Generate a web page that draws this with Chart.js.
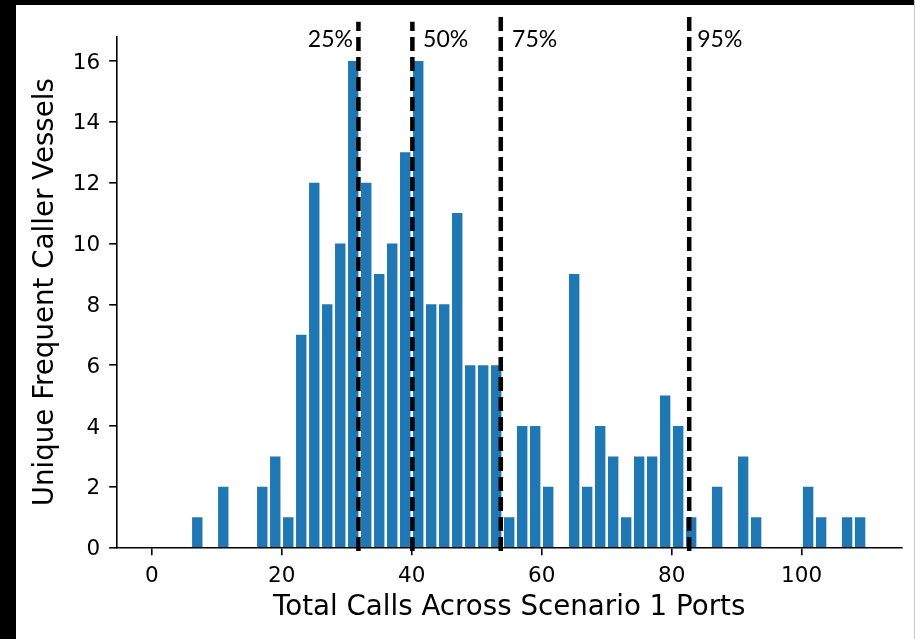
<!DOCTYPE html>
<html><head><meta charset="utf-8">
<script src="https://cdn.jsdelivr.net/npm/chart.js@4/dist/chart.umd.min.js"></script>
<style>
html,body{margin:0;padding:0;background:#fff;}
#wrap{position:relative;width:915px;height:639px;overflow:hidden;background:#fff;}
canvas{position:absolute;left:0;top:0;}
.frameTop{position:absolute;left:0;top:0;width:915px;height:5px;background:#000;}
.frameLeft{position:absolute;left:0;top:0;width:16px;height:639px;background:#000;}
.frameRight{position:absolute;left:914px;top:0;width:1px;height:639px;background:#c8c8c8;}
</style></head><body>
<div id="wrap"><canvas id="c" width="915" height="639"></canvas>
<div class="frameTop"></div><div class="frameLeft"></div><div class="frameRight"></div></div>
<script>
// Histogram bins (centres of 2-call-wide bins) and counts
const binCenters   = [7, 11, 17, 19, 21, 23, 25, 27, 29, 31, 33, 35, 37, 39, 41, 43, 45, 47, 49, 51, 53, 55, 57, 59, 61, 65, 67, 69, 71, 73, 75, 77, 79, 81, 83, 87, 91, 93, 101, 103, 107, 109];
const vesselCounts = [1, 2, 2, 3, 1, 7, 12, 8, 10, 16, 12, 9, 10, 13, 16, 8, 8, 11, 6, 6, 6, 1, 4, 4, 2, 9, 2, 4, 3, 1, 3, 3, 5, 4, 1, 2, 3, 1, 2, 1, 1, 1];
const percentileValues = [31.8, 40.1, 53.7, 82.7];
const percentileLabels = ['25%', '50%', '75%', '95%'];
const xTickValues = [0, 20, 40, 60, 80, 100];
const yTickValues = [0, 2, 4, 6, 8, 10, 12, 14, 16];

const lineTops = [21.7, 21.7, 16.7, 16.7];
const labelOffsets = [-5.5, 10.7, 11.3, 8];

const percentilePlugin = {
  id: 'pct',
  afterDatasetsDraw(chart) {
    const ctx = chart.ctx, x = chart.scales.x;
    ctx.save();
    ctx.strokeStyle = '#000';
    ctx.lineWidth = 4.5;
    ctx.setLineDash([14, 6]);
    percentileValues.forEach((v, i) => {
      const px = x.getPixelForValue(v);
      ctx.beginPath();
      ctx.moveTo(px, 551);
      ctx.lineTo(px, lineTops[i]);
      ctx.stroke();
    });
    ctx.setLineDash([]);
    ctx.font = '23px Lato';
    ctx.fillStyle = '#000';
    ctx.textBaseline = 'alphabetic';
    percentileLabels.forEach((t, i) => {
      const px = x.getPixelForValue(percentileValues[i]);
      ctx.textAlign = i === 0 ? 'right' : 'left';
      ctx.fillText(t, px + labelOffsets[i], 47);
    });
    ctx.restore();
  }
};

const axisFont = {family: 'DejaVu Sans', size: 21.5};
const titleFont = {family: 'DejaVu Sans', size: 27.7};

new Chart(document.getElementById('c'), {
  type: 'bar',
  data: {
    datasets: [{
      data: binCenters.map((c, i) => ({x: c, y: vesselCounts[i]})),
      backgroundColor: '#1f77b4',
      borderWidth: 0,
      barPercentage: 0.8,
      categoryPercentage: 1.0
    }]
  },
  options: {
    responsive: false,
    animation: false,
    devicePixelRatio: 1,
    layout: {padding: {left: 0, top: 36.7, right: 13.3, bottom: 0}},
    plugins: {legend: {display: false}, tooltip: {enabled: false}},
    scales: {
      x: {
        type: 'linear', min: -5.4, max: 115.4, offset: false,
        grid: {display: true, drawOnChartArea: false, drawTicks: true, tickLength: 7.5, color: '#000', lineWidth: 1.6, offset: false},
        border: {display: true, color: '#000', width: 1.6},
        afterBuildTicks: s => { s.ticks = xTickValues.map(v => ({value: v})); },
        afterFit: s => { s.height = 91.3; },
        ticks: {font: axisFont, color: '#000', padding: 8, maxRotation: 0, autoSkip: false, callback: v => String(v)},
        title: {display: true, text: 'Total Calls Across Scenario 1 Ports', font: titleFont, color: '#000', padding: {top: 0, bottom: 15}}
      },
      y: {
        type: 'linear', min: 0, max: 16.8,
        grid: {display: true, drawOnChartArea: false, drawTicks: true, tickLength: 7.5, color: '#000', lineWidth: 1.6},
        border: {display: true, color: '#000', width: 1.6},
        afterBuildTicks: s => { s.ticks = yTickValues.map(v => ({value: v})); },
        afterFit: s => { s.width = 116.7; },
        ticks: {font: axisFont, color: '#000', padding: 9, labelOffset: 2, callback: v => String(v)},
        title: {display: true, text: 'Unique Frequent Caller Vessels', font: titleFont, color: '#000', padding: {top: 29, bottom: 0}}
      }
    }
  },
  plugins: [percentilePlugin]
});
</script>
</body></html>
